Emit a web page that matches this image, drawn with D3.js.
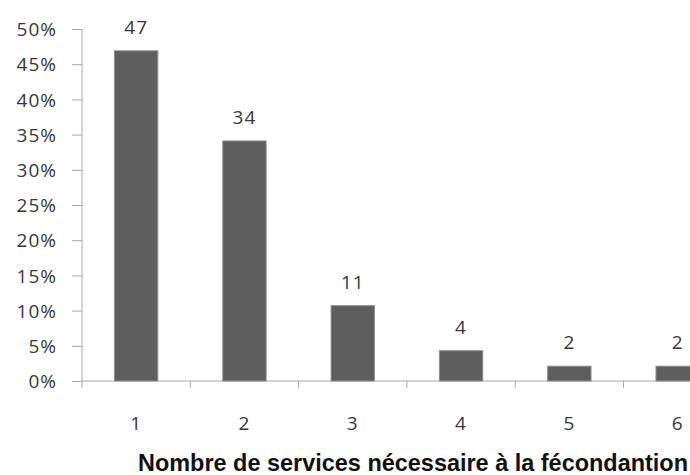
<!DOCTYPE html>
<html>
<head>
<meta charset="utf-8">
<script src="https://cdn.jsdelivr.net/npm/d3@7"></script>
<style>
    body { margin: 0; background: #fff; }
    .tick-label { font-family: "Open Sans", sans-serif; font-size: 19px; fill: #383838; letter-spacing: 1px; }
</style>
</head>
<body>
<div id="chart"></div>
<script>
// Data
const categories = ["1", "2", "3", "4", "5", "6"];
const percents = [46.9, 34.1, 10.7, 4.3, 2.1, 2.1];
const yTicks = [0, 5, 10, 15, 20, 25, 30, 35, 40, 45, 50];
const xTitle = "Nombre de services nécessaire à la fécondantion";

// Set dimensions
const width = 690;
const height = 475;
const plotLeft = 82, plotTop = 29, plotBottom = 381;
const bandW = 108.3;

const svg = d3.select("#chart")
    .append("svg")
    .attr("width", width)
    .attr("height", height);

// Scales
const x = d3.scaleBand()
    .domain(categories)
    .range([plotLeft, plotLeft + bandW * categories.length])
    .paddingInner(0.6)
    .paddingOuter(0.3);

const y = d3.scaleLinear()
    .domain([0, 50])
    .range([plotBottom, plotTop]);

const axisColor = "#a8a8a8";

// Y axis
const yAxis = svg.append("g")
    .attr("transform", `translate(${plotLeft},0)`)
    .call(d3.axisLeft(y).tickValues(yTicks).tickSize(10).tickFormat(d => d + "%"));
yAxis.selectAll("path, line").attr("stroke", axisColor);
yAxis.select(".domain").attr("d", `M0,${plotTop}V${plotBottom}`);
yAxis.selectAll("text")
    .attr("class", "tick-label")
    .attr("x", -25)
    .attr("dy", "0.35em");
yAxis.attr("font-size", null).attr("font-family", null);

// X axis line + band ticks
svg.append("line")
    .attr("x1", plotLeft).attr("x2", plotLeft + bandW * categories.length)
    .attr("y1", plotBottom).attr("y2", plotBottom)
    .attr("stroke", axisColor);

svg.append("g")
    .selectAll("line")
    .data(d3.range(categories.length + 1))
    .enter().append("line")
    .attr("x1", i => plotLeft + i * bandW)
    .attr("x2", i => plotLeft + i * bandW)
    .attr("y1", plotBottom)
    .attr("y2", plotBottom + 7)
    .attr("stroke", axisColor);

// Category labels
svg.append("g")
    .selectAll("text")
    .data(categories)
    .enter().append("text")
    .attr("class", "tick-label")
    .attr("x", d => x(d) + x.bandwidth() / 2)
    .attr("y", 430)
    .attr("text-anchor", "middle")
    .text(d => d);

// Bars
svg.append("g")
    .selectAll("rect")
    .data(percents)
    .enter().append("rect")
    .attr("x", (d, i) => x(categories[i]))
    .attr("y", d => y(d))
    .attr("width", x.bandwidth())
    .attr("height", d => y(0) - y(d))
    .attr("fill", "#5e5e5e")
    .attr("stroke", "#8c8c8c")
    .attr("stroke-width", 1);

// Value labels
svg.append("g")
    .selectAll("text")
    .data(percents)
    .enter().append("text")
    .attr("class", "tick-label")
    .attr("x", (d, i) => x(categories[i]) + x.bandwidth() / 2)
    .attr("y", d => y(d) - 17)
    .attr("text-anchor", "middle")
    .text(d => d3.format(".0f")(d));

// Axis title
svg.append("text")
    .attr("x", 138)
    .attr("y", 471)
    .attr("textLength", 550)
    .attr("lengthAdjust", "spacingAndGlyphs")
    .attr("font-family", "'Liberation Sans Narrow', 'Liberation Sans', sans-serif")
    .attr("font-weight", "bold")
    .attr("font-size", 23)
    .attr("fill", "#111")
    .text(xTitle);
</script>
</body>
</html>
